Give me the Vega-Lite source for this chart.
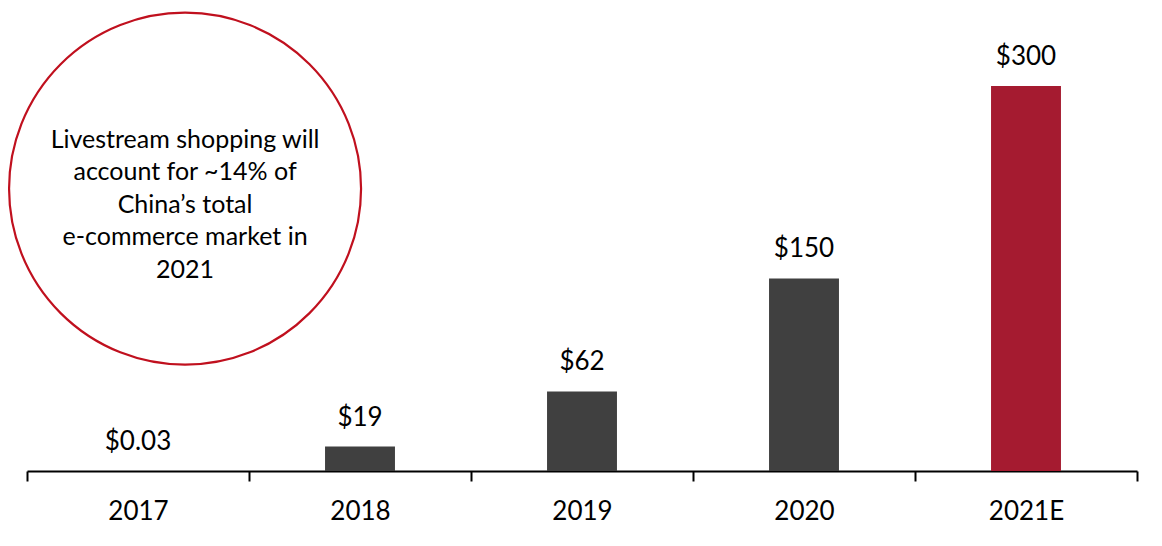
{
  "$schema": "https://vega.github.io/schema/vega-lite/v6.json",
  "width": 1110,
  "height": 471,
  "autosize": "none",
  "padding": {"left": 27, "top": 0, "right": 25, "bottom": 75},
  "background": "white",
  "config": {"view": {"stroke": null}, "font": "Lato"},
  "layer": [
    {
      "data": {
        "values": [
          {"year": "2017", "value": 0.03, "label": "$0.03", "kind": "actual"},
          {"year": "2018", "value": 19, "label": "$19", "kind": "actual"},
          {"year": "2019", "value": 62, "label": "$62", "kind": "actual"},
          {"year": "2020", "value": 150, "label": "$150", "kind": "actual"},
          {"year": "2021E", "value": 300, "label": "$300", "kind": "estimate"}
        ]
      },
      "encoding": {
        "x": {
          "field": "year",
          "type": "ordinal",
          "sort": null,
          "scale": {"paddingInner": 0, "paddingOuter": 0},
          "axis": {
            "title": null,
            "labelAngle": 0,
            "labelFont": "Lato",
            "labelFontSize": 26,
            "labelColor": "black",
            "labelBaseline": "alphabetic",
            "labelPadding": 38,
            "domainColor": "black",
            "domainWidth": 2,
            "tickColor": "black",
            "tickWidth": 2,
            "tickSize": 10,
            "tickBand": "extent"
          }
        },
        "y": {
          "field": "value",
          "type": "quantitative",
          "scale": {"domain": [0, 367], "nice": false, "zero": true},
          "axis": null
        }
      },
      "layer": [
        {
          "mark": {"type": "bar", "width": {"band": 0.315}},
          "encoding": {
            "color": {
              "field": "kind",
              "type": "nominal",
              "scale": {"domain": ["actual", "estimate"], "range": ["#404040", "#a51b30"]},
              "legend": null
            }
          }
        },
        {
          "mark": {"type": "text", "baseline": "alphabetic", "dy": -21, "fontSize": 26, "color": "black"},
          "encoding": {"text": {"field": "label", "type": "nominal"}}
        }
      ]
    },
    {
      "data": {
        "values": [
          {"cx": 0.712, "cy": 220, "note": "Livestream shopping will\naccount for ~14% of\nChina’s total\ne-commerce market in\n2021"}
        ]
      },
      "encoding": {
        "x": {"field": "cx", "type": "quantitative", "scale": {"domain": [0, 5], "nice": false, "zero": false}, "axis": null},
        "y": {"field": "cy", "type": "quantitative"}
      },
      "layer": [
        {
          "mark": {"type": "point", "shape": "circle", "filled": false, "stroke": "#c0101e", "strokeWidth": 2.2, "opacity": 1, "size": 123900}
        },
        {
          "mark": {"type": "text", "lineBreak": "\n", "lineHeight": 32.5, "fontSize": 25, "color": "black", "align": "center", "baseline": "middle", "dy": -49},
          "encoding": {"text": {"field": "note", "type": "nominal"}}
        }
      ]
    }
  ],
  "resolve": {"scale": {"x": "independent"}}
}
